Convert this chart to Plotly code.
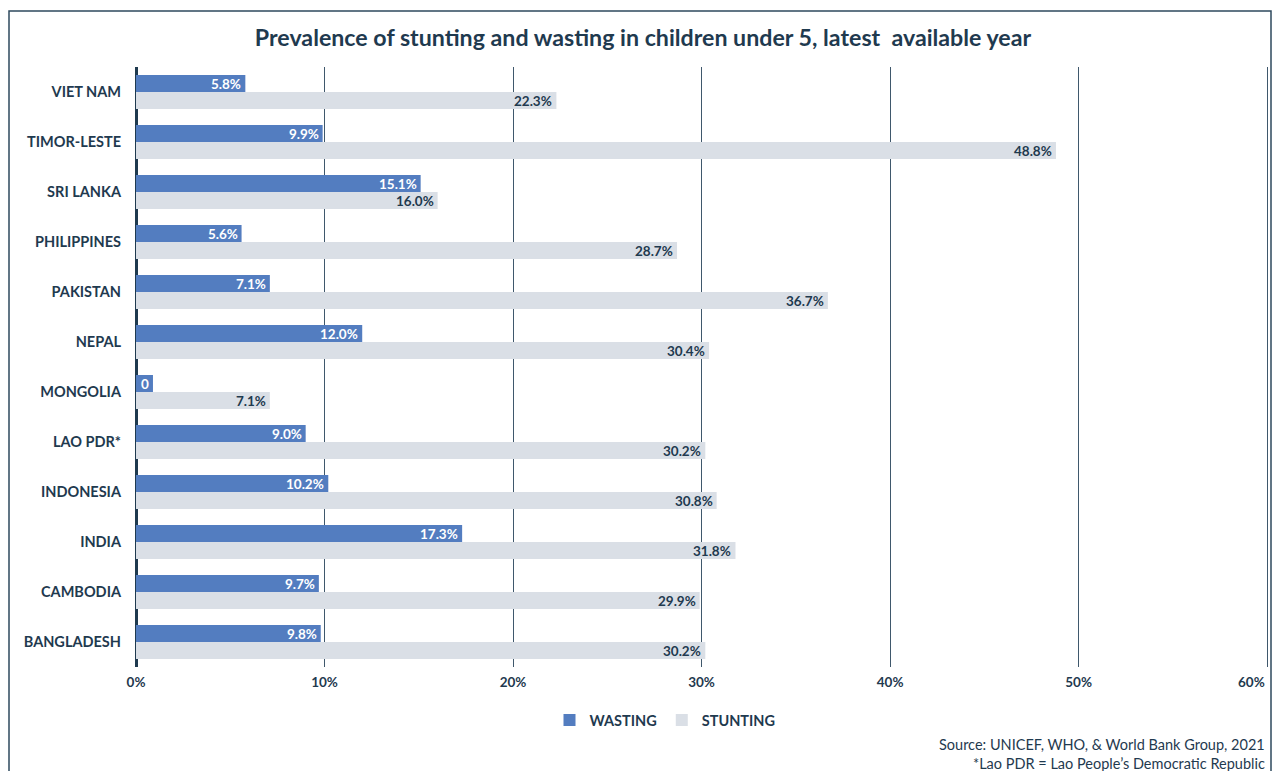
import plotly.graph_objects as go

COUNTRIES = ["VIET NAM", "TIMOR-LESTE", "SRI LANKA", "PHILIPPINES", "PAKISTAN", "NEPAL",
             "MONGOLIA", "LAO PDR*", "INDONESIA", "INDIA", "CAMBODIA", "BANGLADESH"]
WASTING = [5.8, 9.9, 15.1, 5.6, 7.1, 12.0, 0.9, 9.0, 10.2, 17.3, 9.7, 9.8]
WASTING_LABELS = ["5.8%", "9.9%", "15.1%", "5.6%", "7.1%", "12.0%", "0", "9.0%",
                  "10.2%", "17.3%", "9.7%", "9.8%"]
STUNTING = [22.3, 48.8, 16.0, 28.7, 36.7, 30.4, 7.1, 30.2, 30.8, 31.8, 29.9, 30.2]
STUNTING_LABELS = [f"{v:.1f}%" for v in STUNTING]
X_TICKS = [0, 10, 20, 30, 40, 50, 60]
X_TICK_LABELS = ["0%", "10%", "20%", "30%", "40%", "50%", "60%"]

NAVY = "#1f3a4f"
BLUE = "#537dc0"
GREY = "#dadfe6"
FONT = "Lato"

# page has an 8px body margin; work in screen pixels and convert
OFF = 8
W, H = 1280 - OFF, 771 - OFF
L, T = 136 - OFF, 67 - OFF
pw, ph = 1133, 600
R = W - L - pw
B = H - T - ph
X_MAX = 60.1


def px_x(p):
    return (p - OFF - L) / pw


def px_y(p):
    return (H - B - (p - OFF)) / ph


fig = go.Figure()
fig.add_trace(go.Bar(
    name="WASTING", y=COUNTRIES, x=WASTING, orientation="h",
    marker=dict(color=BLUE, line=dict(width=0)),
    hoverinfo="skip", legendrank=1,
))
fig.add_trace(go.Bar(
    name="STUNTING", y=COUNTRIES, x=STUNTING, orientation="h",
    marker=dict(color=GREY, line=dict(width=0)),
    hoverinfo="skip", legendrank=2,
))

annotations = []
for c, v, lab in zip(COUNTRIES, WASTING, WASTING_LABELS):
    annotations.append(dict(
        x=v, y=c, xref="x", yref="y", text=f"<b>{lab}</b>", showarrow=False,
        xanchor="right", yanchor="middle", xshift=-2, yshift=8.5,
        font=dict(family=FONT, size=13.5, color="white"),
    ))
for c, v, lab in zip(COUNTRIES, STUNTING, STUNTING_LABELS):
    annotations.append(dict(
        x=v, y=c, xref="x", yref="y", text=f"<b>{lab}</b>", showarrow=False,
        xanchor="right", yanchor="middle", xshift=-2, yshift=-8.5,
        font=dict(family=FONT, size=13.5, color=NAVY),
    ))
# last tick label sits at the figure edge; keep it inside the page
annotations.append(dict(
    x=X_TICKS[-1], y=px_y(682), xref="x", yref="paper", text=f"<b>{X_TICK_LABELS[-1]}</b>",
    showarrow=False, xanchor="right", yanchor="middle", xshift=0,
    font=dict(family=FONT, size=13.5, color=NAVY),
))
annotations += [
    dict(text="Source: UNICEF, WHO, & World Bank Group, 2021", xref="paper", yref="paper",
         x=px_x(1267), xanchor="right", y=px_y(745), yanchor="middle", showarrow=False,
         font=dict(family=FONT, size=14.5, color=NAVY)),
    dict(text="*Lao PDR = Lao People\u2019s Democratic Republic", xref="paper", yref="paper",
         x=px_x(1267), xanchor="right", y=px_y(763), yanchor="middle", showarrow=False,
         font=dict(family=FONT, size=14.5, color=NAVY)),
]

fig.update_layout(
    width=W, height=H,
    margin=dict(l=L, r=R, t=T, b=B, autoexpand=False),
    paper_bgcolor="white", plot_bgcolor="white",
    barmode="group", bargap=0.32, bargroupgap=0,
    font=dict(family=FONT, color=NAVY),
    title=dict(
        text="<b>Prevalence of stunting and wasting in children under 5, latest  available year</b>",
        x=(643 - OFF) / W, xanchor="center", y=1 - (38 - OFF) / H, yanchor="middle",
        font=dict(family=FONT, size=23.2, color=NAVY),
    ),
    showlegend=True,
    legend=dict(
        orientation="h", x=px_x(665), xanchor="center", y=px_y(720), yanchor="middle",
        font=dict(family=FONT, size=14.5, color=NAVY, weight="bold"),
        itemclick=False, itemdoubleclick=False, traceorder="normal",
    ),
    xaxis=dict(
        range=[0, X_MAX], tickvals=X_TICKS, ticktext=X_TICK_LABELS[:-1] + [""],
        showgrid=True, gridcolor="#3f586c", gridwidth=1,
        zeroline=True, zerolinecolor=NAVY, zerolinewidth=2.5,
        showline=False, ticks="", automargin=False, ticklabelstandoff=5,
        tickfont=dict(family=FONT, size=13.5, color=NAVY, weight="bold"),
        fixedrange=True,
    ),
    yaxis=dict(
        autorange="reversed", showgrid=False, zeroline=False, showline=False,
        ticks="", ticklabelstandoff=14, automargin=False,
        tickfont=dict(family=FONT, size=14.5, color=NAVY, weight="bold"),
        fixedrange=True,
    ),
    shapes=[dict(
        type="rect", xref="paper", yref="paper",
        x0=px_x(9), x1=px_x(1271), y0=px_y(11), y1=px_y(800),
        line=dict(color="#2e4a5e", width=1.5), fillcolor="rgba(0,0,0,0)", layer="below",
    )],
    annotations=annotations,
)

fig.write_html("out.html", config={"displayModeBar": False})
